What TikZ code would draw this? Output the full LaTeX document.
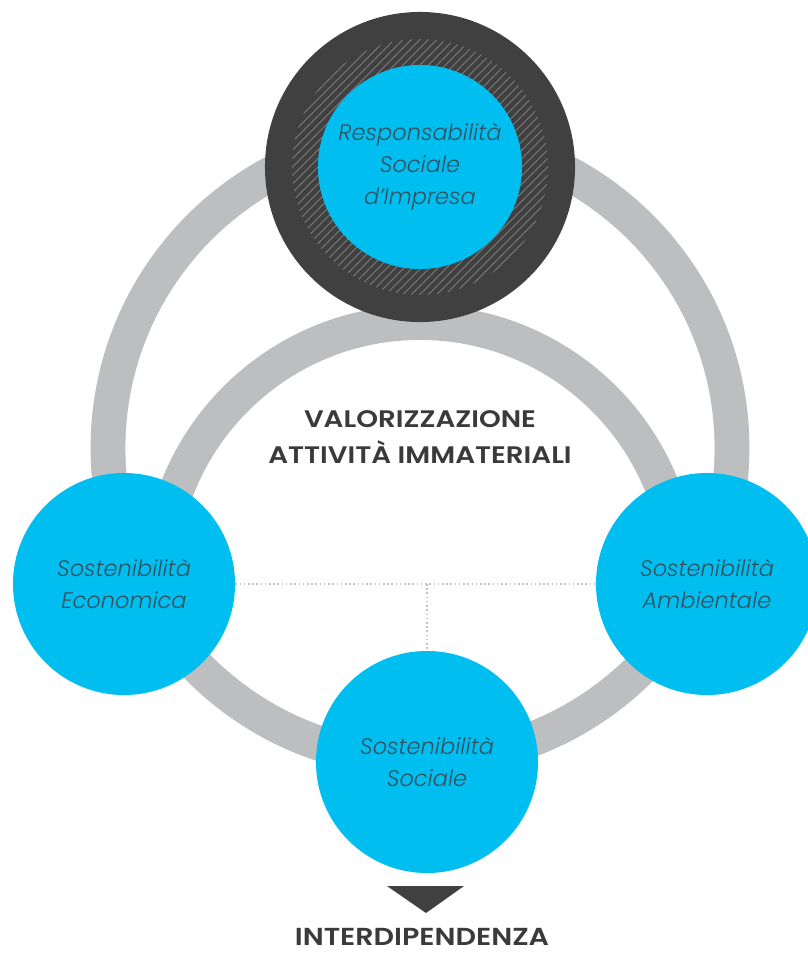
\documentclass[tikz,border=0pt]{standalone}
\usepackage{fontspec}
\setmainfont{Poppins}
\newfontfamily\headfont{Poppins}[BoldFont=* SemiBold, FakeStretch=1.16]
\newfontfamily\labfont{Poppins}[UprightFont=* Light, ItalicFont=* Light Italic]
\usetikzlibrary{positioning}
\definecolor{skyblue}{HTML}{00BEEF}
\definecolor{ringgray}{HTML}{BDBEC0}
\definecolor{darkdisc}{HTML}{404040}
\definecolor{hatchgray}{HTML}{7C7C7C}
\definecolor{labelink}{HTML}{35515F}
\definecolor{headink}{HTML}{3A3A3A}
\definecolor{dotgray}{HTML}{C2C2C2}

\begin{document}
\begin{tikzpicture}[x=0.025cm, y=0.025cm,
        ring/.style={draw=ringgray, line width=24.8pt},
        blob/.style={circle, fill=skyblue, inner sep=0, minimum size=5.55cm,
            align=center, text=labelink, font=\labfont\itshape\fontsize{16}{22.7}\selectfont},
        disc/.style={circle, fill=darkdisc, inner sep=0, minimum size=7.75cm},
        hatch/.style={draw=hatchgray, line width=0.7pt},
        head/.style={text=headink, align=center, font=\headfont\bfseries\fontsize{17}{25.5}\selectfont},
        dots/.style={draw=dotgray, line width=1.1pt, dash pattern=on 1.1pt off 1.9pt}]
    \useasboundingbox (0,0) rectangle (808,-955);
    \clip (0,0) rectangle (808,-955);
    % grey rings behind everything
    \draw[ring] (420,-448) circle[radius=312];
    \draw[ring] (680.5,-583) arc[start angle=0, end angle=180, radius=260.5];

    % dark disc with hatched band
    \node(rsd)[disc] at (420,-167) {};
    \begin{scope}
        \clip (rsd.center) circle[radius=128];
        \foreach \k in {-21,...,21}
            \draw[hatch] (420+8.5*\k-150,-167-150) -- ++(300,300);
    \end{scope}
    \node(rsi)[blob, minimum size=5.1cm] at (rsd.center) {Responsabilità\\Sociale\\d’Impresa};

    \node(eco)[blob] at (124,-584) {Sostenibilità\\Economica};
    \node(amb)[blob] at (707,-584) {Sostenibilità\\Ambientale};
    \node(soc)[blob] at (427,-762) {Sostenibilità\\Sociale};

    \coordinate(fork) at (soc |- eco);
    \draw[dots] (eco) -- (amb);
    \draw[dots] (fork) -- (soc);

    \node(val)[head] at (420,-437) {VALORIZZAZIONE\\ATTIVITÀ IMMATERIALI};

    \fill[darkdisc] (387,-886) -- (464,-886) -- (426,-913) -- cycle;
    \node(inter)[head, anchor=base, inner sep=0, font=\headfont\bfseries\fontsize{17.5}{22}\selectfont] at (422,-945) {INTERDIPENDENZA};
\end{tikzpicture}
\end{document}
